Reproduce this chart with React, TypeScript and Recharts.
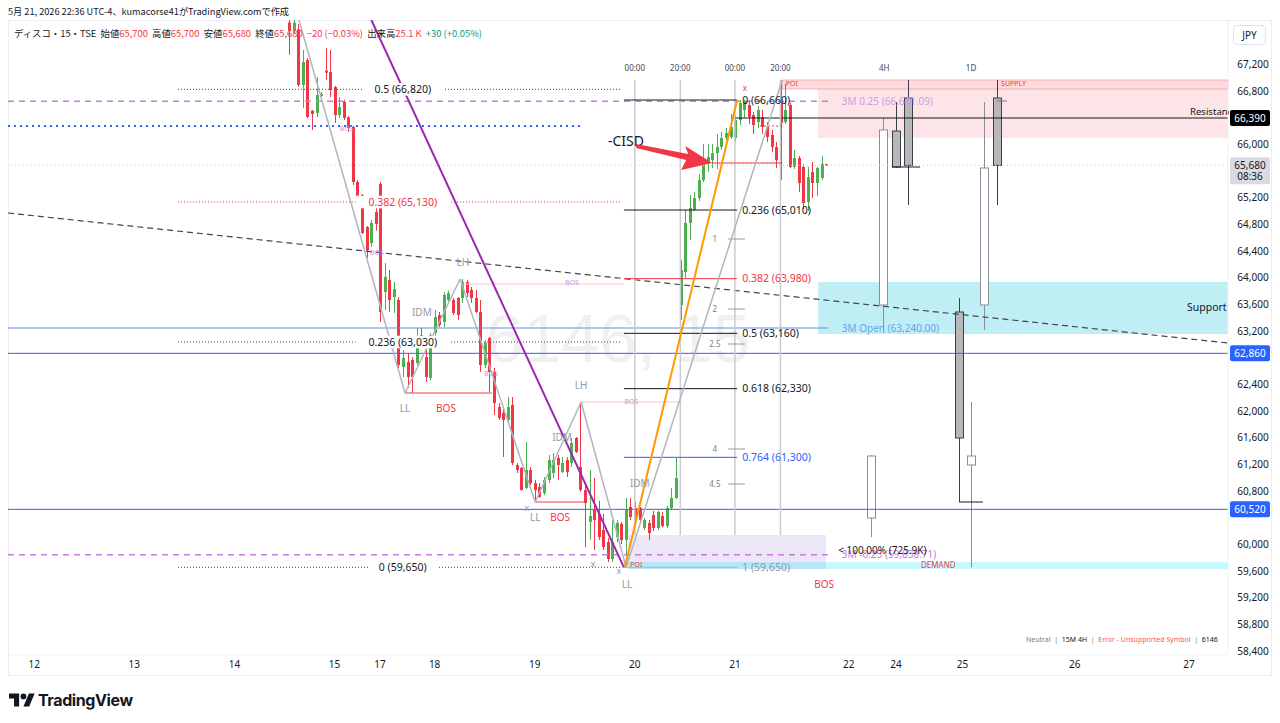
import React from 'react';
import {
  Bar,
  ComposedChart,
  ReferenceArea,
  ReferenceDot,
  ReferenceLine,
  XAxis,
  YAxis,
} from 'recharts';

// 15-minute bars, index 0 = first bar of the 17th session (20:00 UTC-4)
const firstBar = -20;
const opens = [
  67820, 67700, 67720, 66885, 67260, 66500, 66465, 66720, 67100, 67080,
  66855, 66435, 66630, 66400, 66255, 65430, 65235, 64755, 64515, 64980,
  65400, 63780, 63960, 63705, 63660, 62655, 62730, 62760, 62715, 63135,
  62805, 62490, 63165, 63435, 63330, 63660, 63660, 63690, 63690, 63930,
  63810, 63690, 63480, 62685, 63090, 62580, 62055, 61965, 61860, 62085,
  61185, 61140, 60840, 61110, 60915, 60855, 60765, 60960, 61065, 61290,
  61080, 61260, 61215, 61590, 61155, 60810, 60330, 60510, 60450, 60210,
  60030, 59775, 60105, 60300, 60060, 60555, 60540, 60540, 60240, 60315,
  60435, 60240, 60420, 60270, 60540, 60690, 63585, 64080, 64815, 65010,
  65190, 65460, 65715, 65760, 65865, 65955, 66090, 66105, 66090, 66360,
  66510, 66585, 66435, 66330, 66405, 66255, 66135, 65955, 66615, 66330,
  66585, 65655, 65790, 65655, 65130, 65580, 65415, 65490, 65700,
];
const highs = [
  67950, 67880, 67800, 67410, 67290, 66510, 67005, 66780, 67440, 67410,
  66870, 66705, 66660, 66420, 66270, 65460, 65250, 64770, 64860, 65100,
  65430, 64215, 64110, 63930, 63705, 62910, 62865, 62805, 63240, 63240,
  62910, 63165, 63510, 63480, 63780, 63800, 63690, 63705, 63975, 63960,
  63855, 63810, 63660, 63060, 63105, 62640, 62115, 62055, 62205, 62205,
  61215, 61155, 61530, 61155, 60960, 60915, 61005, 61335, 61365, 61335,
  61305, 61305, 61590, 61605, 62130, 60900, 61110, 60990, 60645, 60450,
  60090, 60360, 60360, 60330, 60690, 60690, 60630, 60555, 60390, 60360,
  60495, 60500, 60480, 60570, 60840, 61290, 64260, 65010, 65235, 65280,
  65550, 66000, 66000, 66000, 66150, 66180, 66240, 66450, 66435, 66660,
  66660, 66660, 66480, 66570, 66510, 66330, 66210, 66030, 66960, 66900,
  66615, 65910, 65820, 65700, 65655, 65730, 65660, 65820, 65700,
];
const lows = [
  67340, 67650, 66860, 66540, 66390, 66210, 66405, 66700, 66960, 66705,
  66315, 66390, 66360, 66180, 65385, 65100, 64650, 64290, 64455, 64700,
  63330, 63510, 63480, 63465, 62640, 62505, 62340, 62265, 62685, 62940,
  62430, 62460, 63090, 63255, 63255, 63640, 63435, 63360, 63615, 63705,
  63615, 63465, 62580, 62640, 62280, 61935, 61860, 61305, 61815, 61185,
  61065, 60800, 60820, 60885, 60630, 60690, 60735, 60915, 60990, 60960,
  61065, 61005, 61155, 61365, 60780, 59955, 60060, 59910, 60060, 59910,
  59730, 59730, 60030, 60000, 59650, 60360, 60255, 60300, 60210, 60060,
  60195, 60210, 60250, 60240, 60510, 60675, 63360, 63990, 64560, 64995,
  65145, 65430, 65580, 65640, 65625, 65910, 66060, 66075, 66030, 66285,
  66390, 66300, 66150, 66240, 66150, 66030, 65880, 65640, 65460, 66300,
  65640, 65625, 65280, 65025, 64995, 65190, 65220, 65460, 65680,
];
const closes = [
  67700, 67820, 66885, 67230, 66405, 66450, 66735, 66750, 67070, 66810,
  66435, 66555, 66390, 66240, 65430, 65130, 64665, 64410, 64815, 64800,
  63480, 64005, 63660, 63825, 62685, 62790, 62505, 62505, 63015, 63090,
  62505, 63135, 63405, 63285, 63735, 63765, 63465, 63435, 63930, 63765,
  63690, 63480, 62685, 63015, 62580, 62115, 61890, 61860, 62055, 61215,
  61110, 60810, 61110, 60915, 60810, 60705, 60960, 61260, 61260, 61185,
  61215, 61080, 61515, 61380, 60810, 60615, 60420, 60360, 60105, 59955,
  59775, 60030, 60315, 60060, 60510, 60405, 60360, 60360, 60360, 60165,
  60240, 60480, 60270, 60540, 60690, 60990, 64110, 64815, 65040, 65190,
  65460, 65715, 65805, 65865, 65955, 66090, 66165, 66255, 66360, 66615,
  66630, 66405, 66285, 66510, 66255, 66105, 65955, 65760, 66315, 66510,
  65655, 65790, 65415, 65115, 65505, 65415, 65640, 65700, 65680,
];

// higher timeframe candles drawn by the indicator (4 x 4H, then 4 x 1D)
const htfSlots = [107.9, 110.5, 113.4, 116.0, 127.3, 129.9, 132.7, 135.6];
const htfOpen = [60390, 63585, 66195, 66690, 63480, 61185, 63585, 66690];
const htfHigh = [61330, 66390, 66630, 66960, 63690, 62130, 66630, 66960];
const htfLow = [60105, 63165, 65640, 65085, 60630, 59650, 63210, 65085];
const htfClose = [61320, 66210, 65655, 65680, 61590, 61320, 65640, 65680];

const dayTicks = [-76, -54, -32, -10, 0, 12, 34, 56, 78, 103, 113.4, 128, 152.7, 177.8];
const dayLabels = ['12', '13', '14', '15', '17', '18', '19', '20', '21', '22', '24', '25', '26', '27'];
const priceTicks = [
  58400, 58800, 59200, 59600, 60000, 60800, 61200, 61600, 62000, 62400,
  63200, 63600, 64000, 64400, 64800, 65200, 66000, 66800, 67200,
];

const sessionMarks = [56, 66, 78, 88];
const sessionLabels = ['00:00', '20:00', '00:00', '20:00'];

const fibLeftLevels = [66820, 65130, 63030, 59650];
const fibLeftLabels = ['0.5 (66,820)', '0.382 (65,130)', '0.236 (63,030)', '0 (59,650)'];
const fibRightLevels = [66660, 65010, 63980, 63160, 62330, 61300, 59650];
const fibRightLabels = ['0 (66,660)', '0.236 (65,010)', '0.382 (63,980)', '0.5 (63,160)', '0.618 (62,330)', '0.764 (61,300)', '1 (59,650)'];
const projLevels = [64575, 63525, 63000, 61425, 60900];
const projLabels = ['1', '2', '2.5', '4', '4.5'];

const zigzagIdx = [-17.8, 5.5, 17.6, 34.1, 44.2, 54.1, 88.4];
const zigzagPrice = [67860, 62265, 63975, 60630, 62130, 59650, 66960];

const X_MIN = -81.76;
const X_MAX = 186.37;
const Y_MIN = 58335;
const Y_MAX = 67860;

const UP = '#4caf50';
const DOWN = '#f23645';
const INK = '#131722';
const GRAY = '#9598a1';
const BOS_PURPLE = '#ce93d8';

const rows = [
  ...opens.map((o, k) => ({
    x: firstBar + k,
    open: o,
    high: highs[k],
    low: lows[k],
    close: closes[k],
    range: [lows[k], highs[k]],
    htf: false,
  })),
  ...htfSlots.map((s, k) => ({
    x: s,
    open: htfOpen[k],
    high: htfHigh[k],
    low: htfLow[k],
    close: htfClose[k],
    range: [htfLow[k], htfHigh[k]],
    htf: true,
  })),
];

const CandleShape = (props: any) => {
  const { x, y, width, height, payload } = props;
  if (!payload || y == null) return null;
  const top = Math.min(y, y + height);
  const span = Math.abs(height);
  const k = span / (payload.high - payload.low);
  const py = (v: number) => top + (payload.high - v) * k;
  const cx = Math.round(x + width / 2) + 0.5;
  const up = payload.close >= payload.open;
  const bt = py(Math.max(payload.open, payload.close));
  const bb = py(Math.min(payload.open, payload.close));
  if (payload.htf) {
    const edge = up ? '#8a8d96' : '#3c3f47';
    return (
      <g>
        <line x1={cx} x2={cx} y1={top} y2={top + span} stroke={edge} strokeWidth={1} />
        <rect x={cx - 4} y={bt} width={8} height={Math.max(1, bb - bt)} fill={up ? '#ffffff' : '#b8b8b8'} stroke={edge} strokeWidth={1} />
      </g>
    );
  }
  const col = up ? UP : DOWN;
  return (
    <g>
      <line x1={cx} x2={cx} y1={top} y2={top + span} stroke={col} strokeWidth={1} />
      <rect x={cx - 1.5} y={bt} width={3} height={Math.max(1, bb - bt)} fill={col} />
    </g>
  );
};

const DayTick = ({ x, payload }: any) => (
  <text x={x} y={648} textAnchor="middle" fontSize={10} fill={INK}>
    {dayLabels[dayTicks.indexOf(payload.value)]}
  </text>
);

const PriceTick = ({ y, payload }: any) => (
  <text x={1245} y={y} dy={4} textAnchor="middle" fontSize={10} fill={INK}>
    {payload.value.toLocaleString('en-US')}
  </text>
);

const Badge = ({ viewBox, text, sub, bg, fg }: any) => {
  if (!viewBox) return null;
  const y = viewBox.y;
  return (
    <g>
      <rect x={1222} y={y - 8} width={40} height={sub ? 27 : 16} fill={bg} rx={2} />
      <text x={1242} y={y + 4} textAnchor="middle" fontSize={10} fill={fg}>{text}</text>
      {sub && <text x={1242} y={y + 15} textAnchor="middle" fontSize={10} fill={fg}>{sub}</text>}
    </g>
  );
};

const text = (
  key: string, i: number, p: number, t: string,
  color = INK, size = 10, anchor: 'start' | 'middle' | 'end' = 'middle', bg = false,
) => (
  <ReferenceDot
    key={key}
    x={i}
    y={p}
    r={0}
    ifOverflow="visible"
    shape={(d: any) => (
      <g>
        {bg && <rect x={d.cx - t.length * size * 0.3 - 3} y={d.cy - size * 0.6} width={t.length * size * 0.6 + 6} height={size * 1.2} fill="#ffffff" />}
        <text x={d.cx} y={d.cy} dy="0.35em" textAnchor={anchor} fontSize={size} fill={color}>{t}</text>
      </g>
    )}
  />
);

const hseg = (key: string, a: number, b: number, p: number, stroke: string, dash?: string, w = 1) => (
  <ReferenceLine
    key={key}
    segment={[{ x: a, y: p }, { x: b, y: p }]}
    stroke={stroke}
    strokeDasharray={dash}
    strokeWidth={w}
    ifOverflow="visible"
  />
);

const seg = (key: string, x1: number, y1: number, x2: number, y2: number, stroke: string, w = 1, dash?: string) => (
  <ReferenceLine
    key={key}
    segment={[{ x: x1, y: y1 }, { x: x2, y: y2 }]}
    stroke={stroke}
    strokeWidth={w}
    strokeDasharray={dash}
    ifOverflow="visible"
  />
);

const TVLogo = () => (
  <svg width="26" height="16" viewBox="0 0 36 22">
    <path d="M14 20H7V9H0V2h14v18z" fill="#131722" />
    <circle cx="20" cy="6" r="4" fill="#131722" />
    <path d="M28 20h-8L27.5 2h8L28 20z" fill="#131722" />
  </svg>
);

export default function App() {
  return (
    <div style={{ position: 'fixed', left: 0, top: 0, width: 1280, height: 723, background: '#ffffff', fontFamily: '"Noto Sans", "Noto Sans CJK JP", sans-serif', color: INK, overflow: 'hidden' }}>
      <div style={{ position: 'absolute', left: 8, top: 4, fontSize: 9.2, fontFamily: '"Noto Sans CJK JP", sans-serif', whiteSpace: 'nowrap' }}>
        5月 21, 2026 22:36 UTC-4、kumacorse41がTradingView.comで作成
      </div>

      <div style={{ position: 'absolute', left: 8, top: 20, width: 1264, height: 656, border: '1px solid #eceef2', boxSizing: 'border-box' }} />

      <div style={{ position: 'absolute', left: 8, top: 20, width: 1220, height: 635, display: 'flex', alignItems: 'center', justifyContent: 'center', fontSize: 68, color: 'rgba(42,46,57,0.07)', fontFamily: '"Liberation Sans", sans-serif' }}>
        6146, 15
      </div>

      <div style={{ position: 'absolute', left: 8, top: 20 }}>
        <ComposedChart width={1264} height={656} data={rows} margin={{ top: 0, right: 0, bottom: 0, left: 0 }}>
          <XAxis
            type="number"
            dataKey="x"
            domain={[X_MIN, X_MAX]}
            ticks={dayTicks}
            interval={0}
            allowDataOverflow
            tick={DayTick}
            tickLine={false}
            axisLine={{ stroke: '#eef0f3' }}
            height={21}
          />
          <YAxis
            orientation="right"
            domain={[Y_MIN, Y_MAX]}
            ticks={priceTicks}
            interval={0}
            allowDataOverflow
            tick={PriceTick}
            tickLine={false}
            axisLine={{ stroke: '#eef0f3' }}
            width={44}
          />

          {/* left-hand fibonacci */}
          {fibLeftLevels.map((p, k) =>
            hseg(`fl${k}`, -44.4, 53.2, p, k === 1 ? DOWN : '#434651', '1 2'))}
          {fibLeftLevels.map((p, k) =>
            text(`flt${k}`, 5, p, fibLeftLabels[k], k === 1 ? DOWN : INK, 10.5, 'middle', true))}

          {/* long horizontals from the left */}
          {hseg('blueDot', X_MIN, 44.8, 66270, '#2962ff', '2 4', 2)}
          {hseg('m025', X_MIN, 98.5, 66641.09, '#c77dde', '6 5', 1.5)}
          {hseg('mm025', X_MIN, 98.5, 59838.71, '#c77dde', '6 5', 1.5)}
          {hseg('mopen', X_MIN, 98.5, 63240, '#5d8ff0', undefined, 1)}
          <ReferenceLine y={62860} stroke="#2962ff" ifOverflow="visible" label={<Badge text="62,860" bg="#2962ff" fg="#ffffff" />} />
          <ReferenceLine y={60520} stroke="#2962ff" ifOverflow="visible" label={<Badge text="60,520" bg="#2962ff" fg="#ffffff" />} />
          <ReferenceLine y={65680} stroke="#c7c9d1" strokeDasharray="1 3" ifOverflow="visible" label={<Badge text="65,680" sub="08:36" bg="#d9dbe0" fg={INK} />} />
          {hseg('resLine', 77.4, X_MAX, 66390, INK)}
          <ReferenceLine y={66390} stroke="none" ifOverflow="visible" label={<Badge text="66,390" bg="#000000" fg="#ffffff" />} />
          {seg('trend', X_MIN, 64965, X_MAX, 63015, '#434651', 1.2, '6 4')}

          {/* session separators */}
          {sessionMarks.map((s, k) => seg(`ses${k}`, s, 60135, s, 66960, '#caccd2', 1.5))}
          {sessionMarks.map((s, k) => text(`sest${k}`, s, 67140, sessionLabels[k], '#434651', 8))}

          {/* structure */}
          {hseg('bos1', 5.5, 24.6, 62265, DOWN)}
          {hseg('bos2', 34.1, 45.2, 60630, DOWN)}
          {hseg('cisd', 73, 88.4, 65715, DOWN)}
          {hseg('pale1', 18.2, 53.6, 63900, '#f8c5cb')}
          {hseg('pale2', 44.2, 66.4, 62130, '#f8c5cb')}
          {hseg('redDot', 83.5, 88.4, 66270, DOWN, '2 2')}

          <Bar dataKey="range" barSize={3} shape={CandleShape} isAnimationActive={false} />

          {hseg('mk1', 112.5, 118.7, 65655, INK)}
          {hseg('mk2', 127.3, 132.5, 60630, INK)}
          {hseg('mk3', 135.6, 137.8, 66645, '#787b86')}

          {/* zones */}
          <ReferenceArea x1={88.4} x2={X_MAX} y1={66825} y2={66960} fill="#f23645" fillOpacity={0.18} stroke="#f7a1a9" strokeWidth={0.8} ifOverflow="visible" />
          <ReferenceArea x1={96.3} x2={X_MAX} y1={66090} y2={66825} fill="#f23645" fillOpacity={0.13} ifOverflow="visible" />
          <ReferenceArea x1={96.3} x2={X_MAX} y1={63150} y2={63930} fill="#00bcd4" fillOpacity={0.25} ifOverflow="visible" />
          <ReferenceArea x1={54.5} x2={98} y1={59625} y2={60135} fill="#7e57c2" fillOpacity={0.15} ifOverflow="visible" />
          <ReferenceArea x1={54.5} x2={X_MAX} y1={59625} y2={59730} fill="#00e5ff" fillOpacity={0.22} ifOverflow="visible" />

          {/* right-hand fibonacci */}
          {fibRightLevels.map((p, k) =>
            hseg(`fr${k}`, 53.6, 78.5, p, k === 2 ? DOWN : k === 5 ? '#2962ff' : k === 6 ? '#b2b5be' : INK))}
          {fibRightLevels.map((p, k) =>
            text(`frt${k}`, 79.6, p, fibRightLabels[k], k === 2 ? DOWN : k === 5 ? '#2962ff' : k === 6 ? GRAY : INK, 10.5, 'start'))}
          {projLevels.map((p, k) => hseg(`pj${k}`, 76.5, 80.2, p, '#9598a1'))}
          {projLevels.map((p, k) => text(`pjt${k}`, 73.6, p, projLabels[k], '#787b86', 8))}

          {/* trend lines */}
          {seg('purple', -1.9, 67860, 53.6, 59650, '#9c27b0', 2)}
          {zigzagIdx.slice(1).map((_, k) =>
            seg(`zz${k}`, zigzagIdx[k], zigzagPrice[k], zigzagIdx[k + 1], zigzagPrice[k + 1], '#b2b5be', 1.5))}
          {seg('orange', 53.8, 59650, 78.5, 66660, '#ff9800', 2)}

          {/* labels */}
          {text('lh1', 18.2, 64230, 'LH', GRAY)}
          {text('lh2', 44.2, 62385, 'LH', GRAY)}
          {text('ll1', 5.5, 62040, 'LL', GRAY)}
          {text('ll2', 34.1, 60405, 'LL', GRAY)}
          {text('ll3', 54.3, 59400, 'LL', GRAY)}
          {text('idm1', 9.2, 63480, 'IDM', GRAY)}
          {text('idm2', 40, 61605, 'IDM', GRAY)}
          {text('idm3', 57.1, 60915, 'IDM', GRAY)}
          {text('x1', 32.3, 60540, 'x', GRAY, 9)}
          {text('x2', 46.8, 59700, 'x', GRAY, 9)}
          {text('x3', 52.5, 59595, 'x', GRAY, 9)}
          {text('x4', 80.2, 66840, 'x', DOWN, 8)}
          {text('bosr1', 14.5, 62040, 'BOS', DOWN)}
          {text('bosr2', 39.6, 60405, 'BOS', DOWN)}
          {text('bosr3', 97.6, 59400, 'BOS', DOWN)}
          {text('bosp1', -7.3, 66225, 'BOS', BOS_PURPLE, 7)}
          {text('bosp2', -0.7, 64365, 'BOS', BOS_PURPLE, 7)}
          {text('bosp3', 24.4, 62550, 'BOS', BOS_PURPLE, 7)}
          {text('bosp4', 42.2, 63915, 'BOS', BOS_PURPLE, 7)}
          {text('bosp5', 55.2, 62130, 'BOS', BOS_PURPLE, 7)}
          {text('poi1', 89.2, 66900, 'POI', DOWN, 7, 'start')}
          {text('poi2', 55, 59685, 'POI', DOWN, 7, 'start')}
          {text('supply', 136.5, 66900, 'SUPPLY', DOWN, 7, 'start')}
          {text('demand', 118.9, 59685, 'DEMAND', DOWN, 8, 'start')}
          {text('h4', 110.8, 67140, '4H', '#434651', 8)}
          {text('d1', 129.9, 67140, '1D', '#434651', 8)}
          {text('m025t', 101.5, 66641.09, '3M 0.25 (66,641.09)', '#d39be3', 10, 'start')}
          {text('mopent', 101.5, 63240, '3M Open (63,240.00)', '#6aa2f3', 10, 'start')}
          {text('mm025t', 101.5, 59838.71, '3M -0.25 (59,838.71)', '#c77dde', 10, 'start')}
          {text('vol', 100.7, 59910, '< 100.00% (725.9K)', INK, 10, 'start')}
          {text('support', X_MAX - 0.3, 63555, 'Support', INK, 10.5, 'end')}
          <ReferenceDot
            x={178}
            y={66450}
            r={0}
            ifOverflow="visible"
            shape={(d: any) => (
              <svg x={d.cx} y={d.cy - 9} width={39} height={14} overflow="hidden">
                <text x={0} y={10} fontSize={9.6} fill={INK}>Resistance</text>
              </svg>
            )}
          />
          {text('cisd', 50.1, 66045, '-CISD', INK, 14, 'start')}
          <ReferenceDot
            x={73}
            y={65715}
            r={0}
            ifOverflow="visible"
            shape={(d: any) => (
              <polygon
                transform={`translate(${d.cx},${d.cy})`}
                points="-76,-19 -24,-9 -27,-17 0,0 -31,7 -26,-3 -76,-15"
                fill="#f23645"
              />
            )}
          />
        </ComposedChart>
      </div>

      <div style={{ position: 'absolute', left: 14, top: 26, fontSize: 9.4, whiteSpace: 'nowrap', fontFamily: '"Noto Sans CJK JP", sans-serif' }}>
        ディスコ・15・TSE&nbsp; 始値<span style={{ color: DOWN }}>65,700</span>&nbsp; 高値<span style={{ color: DOWN }}>65,700</span>&nbsp; 安値<span style={{ color: DOWN }}>65,680</span>&nbsp; 終値<span style={{ color: DOWN }}>65,680</span>&nbsp; <span style={{ color: DOWN }}>−20 (−0.03%)</span>&nbsp; 出来高<span style={{ color: DOWN }}>25.1 K</span>&nbsp; <span style={{ color: '#089981' }}>+30 (+0.05%)</span>
      </div>

      <div style={{ position: 'absolute', left: 1233, top: 25, width: 33, height: 20, border: '1px solid #e0e3eb', borderRadius: 4, boxSizing: 'border-box', fontSize: 10, display: 'flex', alignItems: 'center', justifyContent: 'center' }}>
        JPY
      </div>

      <div style={{ position: 'absolute', left: 1026, top: 635, fontSize: 7, color: '#787b86', whiteSpace: 'nowrap' }}>
        Neutral&nbsp;&nbsp;|&nbsp;&nbsp;<span style={{ color: INK }}>15M 4H</span>&nbsp;&nbsp;|&nbsp;&nbsp;<span style={{ color: '#f7525f' }}>Error - Unsupported Symbol</span>&nbsp;&nbsp;|&nbsp;&nbsp;<span style={{ color: INK }}>6146</span>
      </div>

      <div style={{ position: 'absolute', left: 9, top: 690, display: 'flex', alignItems: 'center', gap: 3 }}>
        <TVLogo />
        <span style={{ fontSize: 16, fontWeight: 700, fontFamily: 'Inter, sans-serif', letterSpacing: -0.4 }}>TradingView</span>
      </div>
    </div>
  );
}
